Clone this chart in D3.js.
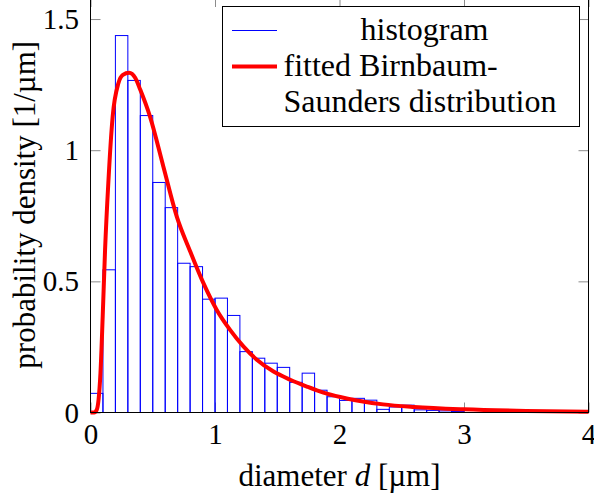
<!DOCTYPE html>
<html>
  <head>
    <title>Particle diameter distribution</title>
    <meta charset="UTF-8">
    <script src="https://d3js.org/d3.v7.min.js"></script>
    <style>
      body { margin: 0; background: #fff; }
      svg text { font-family: "Liberation Serif", "DejaVu Serif", serif; fill: #000; }
    </style>
  </head>
  <body>
    <svg id="chart" width="594" height="496"></svg>
    <script>
      // histogram bins (lower edge, width 0.1 µm) and densities
      const binLo = [0, 0.1, 0.2, 0.3, 0.4, 0.5, 0.6, 0.7, 0.8, 0.9,
        1.0, 1.1, 1.2, 1.3, 1.4, 1.5, 1.6, 1.7, 1.8, 1.9,
        2.0, 2.1, 2.2, 2.3, 2.4, 2.5, 2.6, 2.7, 2.8, 2.9];
      const binWidth = 0.1;
      const density = [0.073, 0.544, 1.437, 1.266, 1.132, 0.877, 0.781, 0.569, 0.556, 0.432,
        0.436, 0.370, 0.232, 0.207, 0.188, 0.172, 0.115, 0.150, 0.085, 0.060,
        0.046, 0.054, 0.047, 0.012, 0.021, 0.028, 0.010, 0.008, 0.006, 0.004];

      // fitted Birnbaum-Saunders curve
      const fitX = [0, 0.03, 0.05, 0.065, 0.08, 0.098, 0.117, 0.143, 0.178, 0.224,
        0.26, 0.31, 0.36, 0.40, 0.478, 0.585, 0.693, 0.80, 0.907, 1.014,
        1.121, 1.228, 1.336, 1.47, 1.604, 1.738, 1.871, 2.006, 2.14, 2.35,
        2.6, 3.0, 3.5, 4.0];
      const fitY = [0, 0, 0.01, 0.05, 0.15, 0.366, 0.62, 0.874, 1.128, 1.255,
        1.287, 1.295, 1.275, 1.23, 1.128, 0.938, 0.747, 0.615, 0.493, 0.391,
        0.315, 0.252, 0.201, 0.156, 0.125, 0.099, 0.076, 0.059, 0.046, 0.031,
        0.021, 0.012, 0.006, 0.003];

      const xTicks = [0, 1, 2, 3, 4];
      const yTicks = [0, 0.5, 1, 1.5];
      const yTickLabels = ['0', '0.5', '1', '1.5'];
      const legendLabels = ['histogram', 'fitted Birnbaum-', 'Saunders distribution'];

      const plotLeft = 90.5, plotRight = 588.5, plotTop = -3, plotBottom = 412.5;

      const x = d3.scaleLinear().domain([0, 4]).range([plotLeft, plotRight]);
      const y = d3.scaleLinear().domain([0, 1.584]).range([plotBottom, plotTop]);

      const svg = d3.select('#chart');

      // ticks (inward, mirrored on all four sides)
      const tickLen = 10;
      const tickColor = '#8c8c8c';

      const xAxis = svg.append('g')
        .attr('transform', `translate(0,${plotBottom})`)
        .call(d3.axisBottom(x).tickValues(xTicks).tickSizeInner(-tickLen).tickSizeOuter(0)
          .tickFormat(d3.format('d')));
      xAxis.selectAll('text')
        .attr('y', 31.5)
        .attr('dy', null)
        .style('font-size', '29px');

      const yAxis = svg.append('g')
        .attr('transform', `translate(${plotLeft},0)`)
        .call(d3.axisLeft(y).tickValues(yTicks).tickSizeInner(-tickLen).tickSizeOuter(0)
          .tickFormat((d, i) => yTickLabels[i]));
      yAxis.selectAll('text')
        .attr('x', -11.5)
        .attr('dy', null)
        .attr('y', 9.5)
        .style('font-size', '29px');

      svg.append('g')
        .attr('transform', `translate(0,${plotTop})`)
        .call(d3.axisTop(x).tickValues(xTicks).tickSizeInner(-tickLen).tickSizeOuter(0).tickFormat(''));
      svg.append('g')
        .attr('transform', `translate(${plotRight},0)`)
        .call(d3.axisRight(y).tickValues(yTicks).tickSizeInner(-tickLen).tickSizeOuter(0).tickFormat(''));

      svg.selectAll('.domain').remove();
      svg.selectAll('.tick line')
        .attr('stroke', tickColor)
        .attr('stroke-width', 1);
      svg.selectAll('.tick text')
        .attr('fill', '#000')
        .style('font-family', '"Liberation Serif", serif');

      // histogram
      svg.append('g')
        .selectAll('rect')
        .data(binLo)
        .join('rect')
        .attr('x', d => x(d))
        .attr('y', (d, i) => y(density[i]))
        .attr('width', d => x(d + binWidth) - x(d))
        .attr('height', (d, i) => y(0) - y(density[i]))
        .attr('fill', 'none')
        .attr('stroke', '#0000ff')
        .attr('stroke-width', 1);

      // fitted curve
      const line = d3.line()
        .x(d => x(d[0]))
        .y(d => y(d[1]))
        .curve(d3.curveMonotoneX);

      svg.append('path')
        .datum(fitX.map((v, i) => [v, fitY[i]]))
        .attr('d', line)
        .attr('fill', 'none')
        .attr('stroke', '#ff0000')
        .attr('stroke-width', 4)
        .attr('stroke-linejoin', 'round');

      // frame
      svg.append('rect')
        .attr('x', plotLeft)
        .attr('y', plotTop)
        .attr('width', plotRight - plotLeft)
        .attr('height', plotBottom - plotTop)
        .attr('fill', 'none')
        .attr('stroke', '#000')
        .attr('stroke-width', 1);

      // axis titles
      const xTitle = svg.append('text')
        .attr('x', (plotLeft + plotRight) / 2)
        .attr('y', 486)
        .attr('text-anchor', 'middle')
        .style('font-size', '31px');
      xTitle.append('tspan').text('diameter ');
      xTitle.append('tspan').style('font-style', 'italic').text('d');
      xTitle.append('tspan').text(' [µm]');

      svg.append('text')
        .attr('transform', `translate(35,${(plotTop + plotBottom) / 2}) rotate(-90)`)
        .attr('text-anchor', 'middle')
        .style('font-size', '31px')
        .text('probability density [1/µm]');

      // legend
      const legend = svg.append('g');
      legend.append('rect')
        .attr('x', 222.5)
        .attr('y', 6.5)
        .attr('width', 357)
        .attr('height', 120)
        .attr('fill', '#fff')
        .attr('stroke', '#000')
        .attr('stroke-width', 1);
      legend.append('line')
        .attr('x1', 232).attr('x2', 277)
        .attr('y1', 30.5).attr('y2', 30.5)
        .attr('stroke', '#0000ff')
        .attr('stroke-width', 1);
      legend.append('line')
        .attr('x1', 232).attr('x2', 277)
        .attr('y1', 66.5).attr('y2', 66.5)
        .attr('stroke', '#ff0000')
        .attr('stroke-width', 4);
      legend.append('text')
        .attr('x', 424.5)
        .attr('y', 39.5)
        .attr('text-anchor', 'middle')
        .style('font-size', '32px')
        .text(legendLabels[0]);
      legend.append('text')
        .attr('x', 283.5)
        .attr('y', 76)
        .style('font-size', '32px')
        .text(legendLabels[1]);
      legend.append('text')
        .attr('x', 283.5)
        .attr('y', 111.5)
        .style('font-size', '32px')
        .text(legendLabels[2]);
    </script>
  </body>
</html>
